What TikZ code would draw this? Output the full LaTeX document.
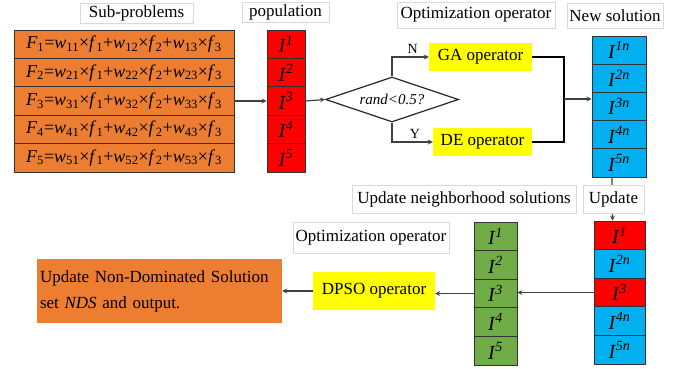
\documentclass[tikz,border=0pt]{standalone}
\usepackage{fontspec}
\setmainfont{Liberation Serif}
\usetikzlibrary{arrows, positioning, shapes.geometric}
\tikzset{>=stealth}
\definecolor{subor}{RGB}{237,125,49}
\definecolor{popred}{RGB}{255,0,0}
\definecolor{newblue}{RGB}{0,176,240}
\definecolor{popgreen}{RGB}{112,173,71}
\definecolor{opyel}{RGB}{255,255,0}
\newcommand{\indv}[1]{\textit{I}\textsuperscript{\textit{#1}}}
\newcommand{\subprob}[1]{\textit{F}\textsubscript{#1}=\textit{w}\textsubscript{#11}×\textit{f}\textsubscript{1}+\textit{w}\textsubscript{#12}×\textit{f}\textsubscript{2}+\textit{w}\textsubscript{#13}×\textit{f}\textsubscript{3}}

\begin{document}
\begin{tikzpicture}[x=1pt, y=-1pt, >=stealth,
    cell/.style={draw=black!80, line width=0.8pt, inner sep=0pt, font=\fontsize{20}{22}\selectfont},
    tag/.style={draw=black!15, fill=white, inner sep=0pt, font=\fontsize{17}{19}\selectfont},
    opbox/.style={fill=opyel, inner sep=0pt, font=\fontsize{17}{19}\selectfont},
    link/.style={->, draw=black!75, line width=1.2pt}]
    \useasboundingbox (0,0) rectangle (689,368);

    % sub-problems and population
    \foreach \i in {1,...,5} {
        \node[cell, fill=subor, minimum width=220pt, minimum height=28.4pt, font=\fontsize{18}{20}\selectfont] (s\i) at (124,15.8+28.4*\i) {\subprob{\i}};
        \node[cell, fill=popred, minimum width=38pt, minimum height=28.4pt] (p\i) at (286,15.8+28.4*\i) {\indv{\i}};
        \node[cell, fill=newblue, minimum width=54pt, minimum height=28.2pt] (n\i) at (619,21.9+28.2*\i) {\indv{\i n}};
    }

    % updated and neighbourhood columns
    \foreach \i/\c/\t in {1/popred/1, 2/newblue/2n, 3/popred/3, 4/newblue/4n, 5/newblue/5n} {
        \node[cell, fill=\c, minimum width=51pt, minimum height=28.6pt] (u\i) at (619.5,206.7+28.6*\i) {\indv{\t}};
        \node[cell, fill=popgreen, minimum width=43pt, minimum height=28.6pt] (g\i) at (495.5,207.7+28.6*\i) {\indv{\i}};
    }

    % operators
    \node[draw=black!85, line width=1.2pt, diamond, aspect=2.95, minimum width=133pt, minimum height=45pt, inner sep=0pt, font=\fontsize{15}{17}\selectfont\itshape] (dia) at (392,99.5) {rand<0.5?};
    \node[opbox, minimum width=103pt, minimum height=28pt] (ga) at (480.5,57) {GA operator};
    \node[opbox, minimum width=99pt, minimum height=28pt] (de) at (482.5,142) {DE operator};
    \node[opbox, minimum width=122pt, minimum height=38pt] (dpso) at (374,291) {DPSO operator};
    \node[fill=subor, minimum width=245pt, minimum height=64pt, text width=239pt, inner sep=3pt, align=left, font=\fontsize{17}{26}\selectfont] (nds) at (159.5,291) {Update Non-Dominated Solution\\set \textit{NDS} and output.};
    \coordinate (mrg) at (564,99);

    % connectors
    \draw[link] (s3.east) -- (p3.west);
    \draw[link] (p3.east) -- (dia.west);
    \draw[link] (dia.north) |- node[pos=0.78, above, font=\fontsize{14}{16}\selectfont] {N} (ga.west);
    \draw[link] (dia.south) |- node[pos=0.78, above, font=\fontsize{14}{16}\selectfont] {Y} (de.west);
    \draw[black, line width=2pt] (ga.east) -| (mrg) |- (de.east);
    \draw[link] (mrg) -- (mrg -| n3.west);
    \draw[link] ([xshift=-7pt]n5.south) -- ([xshift=-7pt]u1.north);
    \draw[link] (u3.west) -- (u3.west -| g3.east);
    \draw[link] (g3.west) -- (g3.west -| dpso.east);
    \draw[link] (dpso.west) -- (nds.east);

    % titles
    \node[tag, minimum width=113pt, minimum height=20pt] (tsub) at (136.5,13) {Sub-problems};
    \node[tag, minimum width=87pt, minimum height=20pt] (tpop) at (285.5,12.5) {population};
    \node[tag, minimum width=158pt, minimum height=26pt] (topt) at (476,15) {Optimization operator};
    \node[tag, minimum width=96pt, minimum height=25pt] (tnew) at (615,15.5) {New solution};
    \node[tag, minimum width=224pt, minimum height=28pt] (tnbr) at (464,199) {Update neighborhood solutions};
    \node[tag, minimum width=61pt, minimum height=28pt] (tupd) at (613.5,199) {Update};
    \node[tag, minimum width=156pt, minimum height=31pt] (topt2) at (371,237.5) {Optimization operator};
\end{tikzpicture}
\end{document}
